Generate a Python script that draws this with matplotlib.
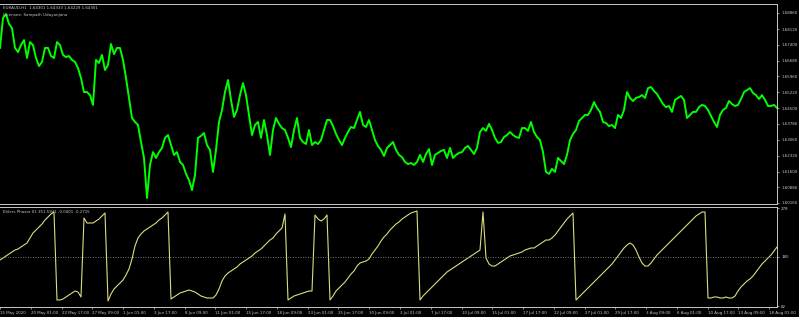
import numpy as np
import matplotlib.pyplot as plt

# EURAUD H1 close, one value every ~6 bars
price = [
    1.6726, 1.6863, 1.6881, 1.6836, 1.6817, 1.6726, 1.6707, 1.6739, 1.6762, 1.6680,
    1.6753, 1.6739, 1.6680, 1.6643, 1.6662, 1.6726, 1.6726, 1.6689, 1.6680, 1.6753,
    1.6739, 1.6694, 1.6684, 1.6689, 1.6671, 1.6662, 1.6634, 1.6588, 1.6524, 1.6524,
    1.6510, 1.6465, 1.6671, 1.6657, 1.6694, 1.6625, 1.6648, 1.6744, 1.6698, 1.6726,
    1.6726, 1.6671, 1.6588, 1.6497, 1.6405, 1.6387, 1.6373, 1.6295, 1.6222, 1.6039,
    1.6190, 1.6249, 1.6222, 1.6249, 1.6268, 1.6314, 1.6327, 1.6281, 1.6236, 1.6249,
    1.6204, 1.6190, 1.6149, 1.6121, 1.6075, 1.6144, 1.6314, 1.6323, 1.6336, 1.6281,
    1.6259, 1.6158, 1.6259, 1.6387, 1.6442, 1.6524, 1.6579, 1.6488, 1.6410, 1.6442,
    1.6510, 1.6565, 1.6510, 1.6419, 1.6327, 1.6373, 1.6387, 1.6314, 1.6396, 1.6327,
    1.6236, 1.6350, 1.6405, 1.6378, 1.6359, 1.6350, 1.6314, 1.6272, 1.6350, 1.6405,
    1.6314, 1.6295, 1.6286, 1.6350, 1.6281, 1.6295, 1.6286, 1.6304, 1.6350, 1.6396,
    1.6396, 1.6368, 1.6332, 1.6304, 1.6281, 1.6314, 1.6341, 1.6364, 1.6359, 1.6396,
    1.6433, 1.6373, 1.6364, 1.6396, 1.6350, 1.6304, 1.6277, 1.6259, 1.6231, 1.6268,
    1.6281, 1.6295, 1.6259, 1.6236, 1.6226, 1.6204, 1.6194, 1.6199, 1.6190, 1.6204,
    1.6236, 1.6204, 1.6240, 1.6263, 1.6190, 1.6236, 1.6245, 1.6254, 1.6259, 1.6222,
    1.6268, 1.6222, 1.6236, 1.6245, 1.6249, 1.6268, 1.6277, 1.6259, 1.6240, 1.6268,
    1.6341, 1.6359, 1.6346, 1.6378, 1.6350, 1.6314, 1.6291, 1.6295, 1.6318, 1.6327,
    1.6341, 1.6327, 1.6318, 1.6314, 1.6359, 1.6359, 1.6346, 1.6387, 1.6341, 1.6318,
    1.6304, 1.6249, 1.6158, 1.6149, 1.6172, 1.6158, 1.6222, 1.6208, 1.6194, 1.6236,
    1.6304, 1.6332, 1.6350, 1.6391, 1.6405, 1.6419, 1.6419, 1.6442, 1.6478, 1.6451,
    1.6433, 1.6387, 1.6382, 1.6368, 1.6373, 1.6359, 1.6419, 1.6405, 1.6442, 1.6524,
    1.6497, 1.6483, 1.6497, 1.6501, 1.6510, 1.6497, 1.6542, 1.6547, 1.6529, 1.6515,
    1.6492, 1.6469, 1.6455, 1.6460, 1.6433, 1.6488, 1.6497, 1.6506, 1.6488, 1.6405,
    1.6419, 1.6433, 1.6433, 1.6455, 1.6465, 1.6460, 1.6442, 1.6414, 1.6387, 1.6364,
    1.6419, 1.6442, 1.6451, 1.6483, 1.6469, 1.6460, 1.6465, 1.6492, 1.6524, 1.6533,
    1.6542, 1.6520, 1.6510, 1.6492, 1.6510, 1.6488, 1.6460, 1.6460, 1.6465, 1.6451,
]

# Ehlers Phasor, same sampling
phasor = [
    174, 178, 182, 186, 190, 194, 196, 200, 204, 208,
    218, 228, 234, 240, 246, 254, 260, 266, 270, 94,
    94, 96, 100, 104, 108, 112, 110, 100, 258, 248,
    248, 248, 252, 256, 262, 268, 92, 106, 116, 122,
    128, 134, 144, 156, 176, 202, 218, 226, 232, 236,
    240, 244, 248, 254, 258, 264, 270, 96, 100, 104,
    108, 110, 112, 114, 112, 110, 106, 102, 100, 98,
    98, 98, 104, 116, 132, 142, 148, 152, 156, 160,
    166, 170, 174, 178, 182, 188, 192, 196, 202, 208,
    214, 218, 226, 232, 238, 266, 94, 98, 102, 104,
    106, 108, 110, 112, 112, 264, 256, 252, 256, 264,
    94, 102, 112, 118, 124, 130, 138, 146, 152, 162,
    168, 170, 172, 176, 186, 194, 202, 212, 220, 226,
    234, 240, 246, 250, 256, 260, 264, 268, 270, 272,
    94, 102, 108, 114, 120, 126, 132, 138, 144, 150,
    154, 158, 162, 166, 170, 174, 178, 182, 186, 190,
    194, 270, 178, 166, 162, 162, 166, 170, 174, 178,
    182, 184, 186, 188, 190, 194, 196, 198, 198, 202,
    206, 210, 214, 214, 218, 224, 232, 240, 248, 256,
    262, 268, 94, 100, 106, 112, 118, 124, 130, 136,
    142, 148, 154, 160, 166, 174, 182, 190, 198, 204,
    208, 204, 194, 180, 168, 162, 162, 168, 176, 184,
    190, 196, 202, 208, 214, 220, 226, 232, 238, 244,
    250, 256, 262, 266, 270, 270, 98, 98, 100, 100,
    98, 98, 100, 98, 98, 102, 112, 120, 126, 132,
    136, 142, 150, 158, 166, 172, 178, 184, 192, 200,
]

time_labels = ["15 May 2020", "20 May 01:00", "22 May 17:00", "27 May 09:00",
               "1 Jun 01:00", "3 Jun 17:00", "8 Jun 09:00", "11 Jun 01:00",
               "15 Jun 17:00", "18 Jun 09:00", "23 Jun 01:00", "25 Jun 17:00",
               "30 Jun 09:00", "3 Jul 01:00", "7 Jul 17:00", "10 Jul 09:00",
               "15 Jul 01:00", "17 Jul 17:00", "22 Jul 09:00", "27 Jul 01:00",
               "29 Jul 17:00", "3 Aug 09:00", "6 Aug 01:00", "10 Aug 17:00",
               "13 Aug 09:00", "18 Aug 01:00"]

price_ticks = [1.68860, 1.68120, 1.67400, 1.66680, 1.65960, 1.65220, 1.64500,
               1.63780, 1.63060, 1.62320, 1.61600, 1.60880, 1.60160]
phasor_ticks = [278, 180, 82]

bars_per_point = 6.24   # H1 bars between two stored values
bars_per_label = 64

fg = "#c8c8c8"
fs = 2.9

fig = plt.figure(figsize=(7.99, 3.17), dpi=100, facecolor="black")
W, H = 799, 317

ax1 = fig.add_axes([0, (H - 204) / H, 777 / W, 200 / H], facecolor="black")
ax2 = fig.add_axes([0, (H - 307) / H, 777 / W, 100 / H], facecolor="black")

x1 = np.arange(len(price)) * bars_per_point
x2 = np.arange(len(phasor)) * bars_per_point
xmax = (len(price) - 1) * bars_per_point

ax1.plot(x1, price, color="#00ff00", lw=1.4)
ax1.set_xlim(0, xmax)
ax1.set_ylim(1.60112, 1.69272)
ax1.set_xticks([])

ax2.plot(x2, phasor, color="#dcdc80", lw=0.8)
ax2.axhline(180, color="#9a9a9a", lw=0.6, ls=(0, (1, 2)))
ax2.set_xlim(0, xmax)
ax2.set_ylim(80, 280)

ticks = np.arange(len(time_labels)) * bars_per_label
ax2.set_xticks(ticks)
ax2.set_xticklabels(time_labels, ha="left", fontsize=fs, color=fg)
ax2.tick_params(axis="x", length=1.5, width=0.5, color=fg, pad=1.2)

for ax, yt, lab in [(ax1, price_ticks, ["{:.5f}".format(v) for v in price_ticks]),
                    (ax2, phasor_ticks, [str(v) for v in phasor_ticks])]:
    ax.yaxis.tick_right()
    ax.set_yticks(yt)
    ax.set_yticklabels(lab, fontsize=fs, color=fg, ha="left")
    ax.tick_params(axis="y", length=1.5, width=0.5, color=fg, pad=1.5)
    ax.spines["left"].set_visible(False)
    for s in ["top", "right", "bottom"]:
        ax.spines[s].set_color(fg)
        ax.spines[s].set_linewidth(0.7)

ax1.text(0.004, 0.992, "EURAUD,H1  1.64301 1.64333 1.64229 1.64301",
         transform=ax1.transAxes, fontsize=fs, color=fg, va="top")
ax1.text(0.004, 0.955, "Licensee: Sampath Udayanjana",
         transform=ax1.transAxes, fontsize=fs, color=fg, va="top")
ax2.text(0.004, 0.97, "Ehlers Phasor 01 351.5941 -0.0401 -0.2715",
         transform=ax2.transAxes, fontsize=fs, color=fg, va="top")

fig.savefig("out.png", dpi=100, facecolor="black")
